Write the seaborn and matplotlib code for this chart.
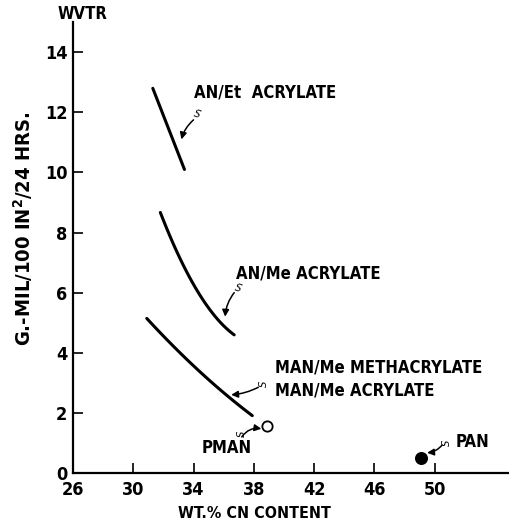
import numpy as np
import pandas as pd
import matplotlib
matplotlib.use("Agg")
import matplotlib.pyplot as plt
import seaborn as sns

# Copolymer WVTR curves vs nitrile content (wt.% CN)
an_et_x = [31.3, 33.4]
an_et_y = [12.8, 10.1]

an_me_x = [31.8, 32.9, 34.4, 35.5, 36.7]
an_me_y = [8.8, 7.1, 6.0, 5.33, 4.5]

man_me_x = [30.9, 32.6, 34.4, 36.4, 37.9]
man_me_y = [5.17, 4.2, 3.37, 2.57, 1.87]

# Homopolymer points
pman_x, pman_y = 38.9, 1.57
pan_x, pan_y = 49.1, 0.5

x_ticks = [26, 30, 34, 38, 42, 46, 50]
y_ticks = [0, 2, 4, 6, 8, 10, 12, 14]

sns.set_style("ticks")
plt.rcParams["font.family"] = ["DejaVu Sans"]
plt.rcParams["font.stretch"] = "condensed"
plt.rcParams["font.weight"] = "bold"
plt.rcParams["text.color"] = "black"
plt.rcParams["xtick.color"] = "black"
plt.rcParams["ytick.color"] = "black"
plt.rcParams["axes.edgecolor"] = "black"

fig = plt.figure(figsize=(5.10, 5.29), dpi=100)
ax = fig.add_axes([0.143, 0.106, 0.857, 0.852])

curves = pd.concat([
    pd.DataFrame({"x": an_et_x, "y": an_et_y, "s": "AN/Et"}),
    pd.DataFrame({"x": an_me_x, "y": an_me_y, "s": "AN/Me"}),
    pd.DataFrame({"x": man_me_x, "y": man_me_y, "s": "MAN/Me"}),
])
for name, grp in curves.groupby("s"):
    if len(grp) > 2:
        # smooth quadratic through the read points
        c = np.polyfit(grp["x"], grp["y"], 2)
        xs = np.linspace(grp["x"].min(), grp["x"].max(), 60)
        sm = pd.DataFrame({"x": xs, "y": np.polyval(c, xs)})
    else:
        sm = grp
    sns.lineplot(data=sm, x="x", y="y", ax=ax, color="black", lw=2.2,
                 sort=False, estimator=None)

ax.scatter([pman_x], [pman_y], s=55, facecolor="white", edgecolor="black",
           linewidth=1.3, zorder=5)
ax.scatter([pan_x], [pan_y], s=70, facecolor="black", edgecolor="black",
           zorder=5)

ax.set_xlim(26, 55)
ax.set_ylim(0, 15)
ax.set_xticks(x_ticks)
ax.set_yticks(y_ticks)
ax.tick_params(direction="in", length=7, width=1.2, labelsize=13, pad=4)
ax.tick_params(axis="x", pad=6)
for lab in ax.get_xticklabels() + ax.get_yticklabels():
    lab.set_fontweight("bold")
    lab.set_fontstretch("condensed")
sns.despine(ax=ax)
ax.spines["left"].set_linewidth(1.6)
ax.spines["bottom"].set_linewidth(1.6)
ax.set_xlabel("")
ax.set_ylabel("")

fs = 12
ax.text(34.0, 12.67, "AN/Et  ACRYLATE", fontsize=fs, va="center")
ax.text(36.8, 6.63, "AN/Me ACRYLATE", fontsize=fs, va="center")
ax.text(39.4, 3.5, "MAN/Me METHACRYLATE", fontsize=fs, va="center")
ax.text(39.4, 2.73, "MAN/Me ACRYLATE", fontsize=fs, va="center")
ax.text(34.55, 0.83, "PMAN", fontsize=fs, va="center")
ax.text(51.4, 1.03, "PAN", fontsize=fs, va="center")

arrow = dict(arrowstyle="-|>", color="black", lw=1.1, mutation_scale=10,
             shrinkA=0, shrinkB=0)
pointers = [
    ((33.2, 11.1), (34.0, 11.75), "arc3,rad=0.15"),
    ((36.1, 5.2), (36.7, 6.0), "arc3,rad=0.15"),
    ((36.5, 2.6), (38.3, 2.85), "arc3,rad=-0.1"),
    ((38.5, 1.47), (37.2, 1.2), "arc3,rad=-0.3"),
    ((49.5, 0.67), (50.5, 0.93), "arc3,rad=-0.2"),
]
for head, tail, cs in pointers:
    ax.annotate("", xy=head, xytext=tail,
                arrowprops=dict(arrow, connectionstyle=cs))
# squiggle tails
for (x, y, rot) in [(34.25, 11.95, -20), (36.95, 6.15, -20),
                    (38.7, 2.95, 90), (37.2, 1.3, 90), (50.8, 1.0, 90)]:
    ax.text(x, y, "S", fontsize=8, fontweight="normal", rotation=rot,
            ha="center", va="center", style="italic")

fig.text(0.112, 0.974, "WVTR", fontsize=fs, ha="left", va="center")
fig.text(0.045, 0.567, "G.-MIL/100 IN$^2$/24 HRS.", fontsize=14.5,
         rotation=90, ha="center", va="center")
fig.text(0.498, 0.030, "WT.% CN CONTENT", fontsize=11.5, ha="center",
         va="center")

fig.savefig("out.png", dpi=100)
